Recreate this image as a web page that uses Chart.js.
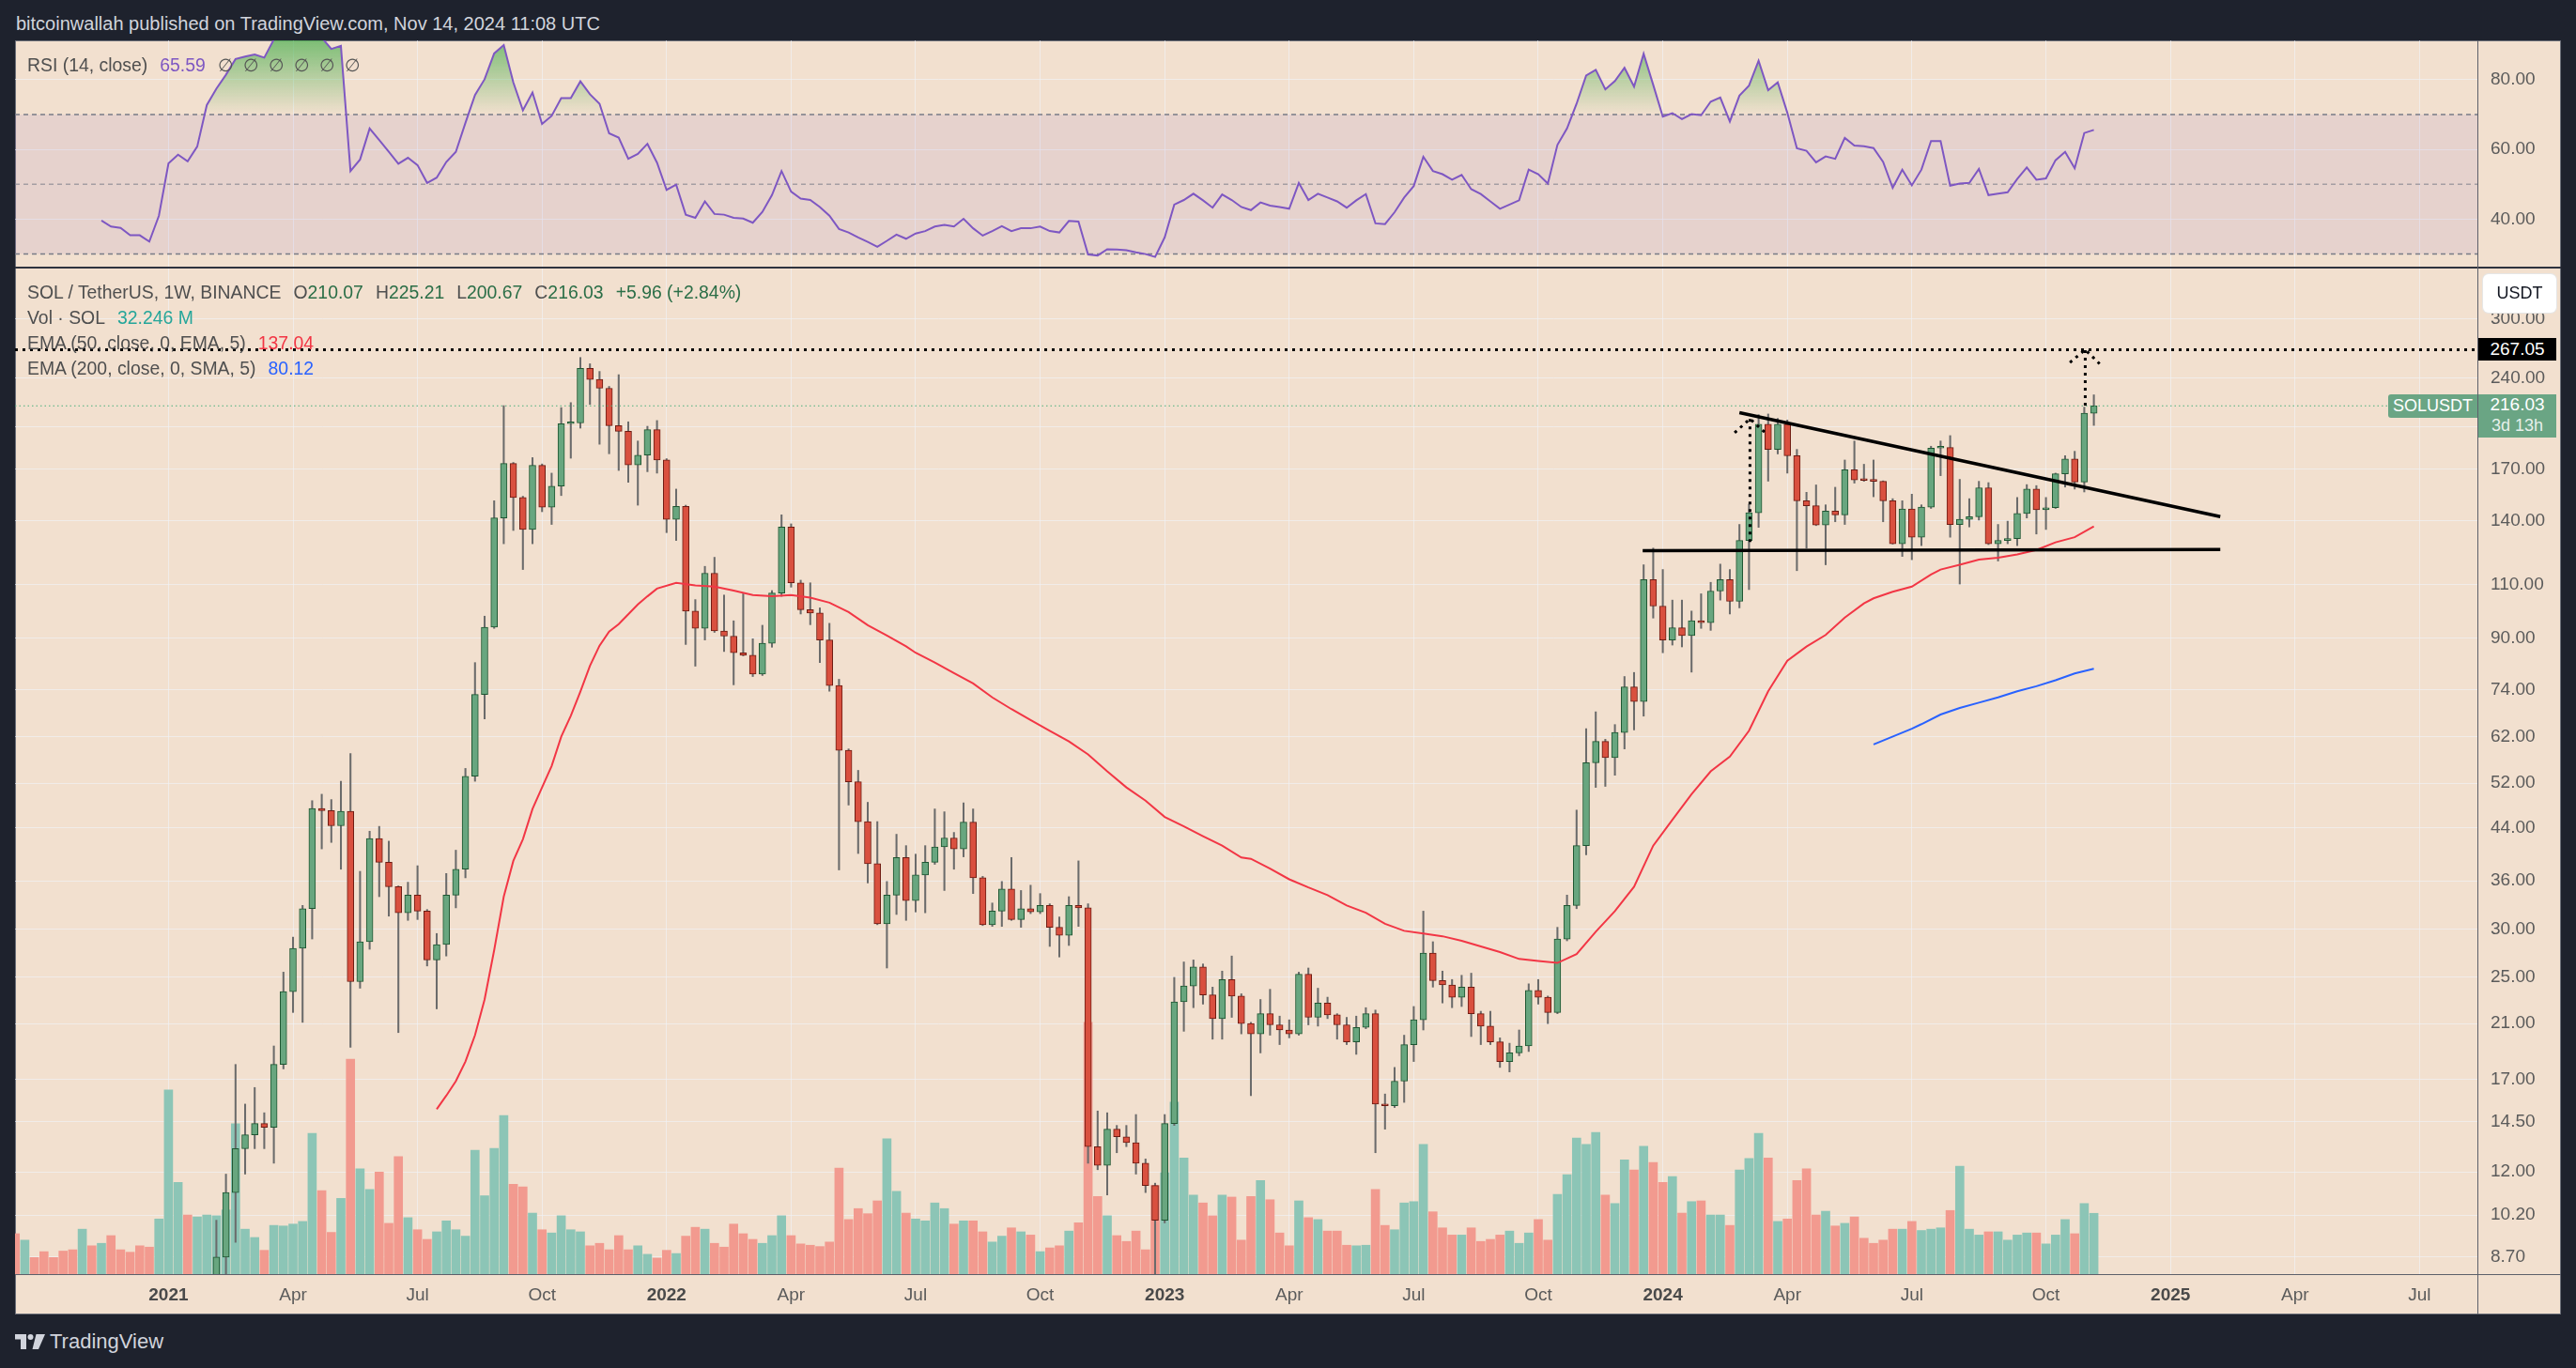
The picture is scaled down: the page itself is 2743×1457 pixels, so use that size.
<!DOCTYPE html>
<html>
<head>
<meta charset="utf-8">
<title>SOL / TetherUS, 1W</title>
<script src="https://cdn.jsdelivr.net/npm/chart.js@4.4.1/dist/chart.umd.min.js"></script>
<style>
  html, body { margin: 0; padding: 0; }
  body { width: 2743px; height: 1457px; background: #1e222d; position: relative; overflow: hidden;
         font-family: 'Liberation Sans', Arial, sans-serif; }
  .abs { position: absolute; }
  #header { left: 17px; top: 12px; color: #d1d4dc; font-size: 20px; line-height: 26px; white-space: nowrap; }
  #panel { left: 16px; top: 43px; width: 2711px; height: 1357px; background: #f2e0cf; box-sizing: border-box; border: 1px solid #6b6e78; }
  canvas { position: absolute; }
  #rsiCanvas { left: 16px; top: 43px; }
  #mainCanvas { left: 16px; top: 285px; }
  .legend { position: absolute; left: 29px; font-size: 19.4px; color: #4f4f4f; white-space: nowrap; height: 24px; line-height: 24px; }
  .legend span { margin-left: 13px; }
  .legend span.first { margin-left: 0; }
  .legend b { font-weight: normal; color: #4f4f4f; }
  .badge { position: absolute; color: #fff; font-size: 19px; text-align: center; white-space: nowrap; }
  #usdt { left: 2644px; top: 292px; width: 78px; height: 41px; background: #fff; border-radius: 6px; color: #131722; line-height: 41px; font-size: 18px; box-shadow: 0 0 0 1px #e6e6e6; }
  #tgt { left: 2639px; width: 83px; height: 24px; background: #000; line-height: 24px; }
  #sym { left: 2543px; width: 95px; height: 25px; background: #6aa584; border-radius: 3px 0 0 3px; line-height: 25px; font-size: 18px; }
  #last { left: 2639px; width: 83px; height: 46px; background: #6aa584; line-height: 22px; }
  #last div:last-child { color: rgba(255,255,255,0.85); font-size: 18px; }
  #footer { left: 53px; top: 1414px; color: #d1d4dc; font-size: 22px; line-height: 30px; }
</style>
</head>
<body>
<div id="header" class="abs">bitcoinwallah published on TradingView.com, Nov 14, 2024 11:08 UTC</div>
<div id="panel" class="abs"></div>
<canvas id="rsiCanvas" width="2711" height="241"></canvas>
<canvas id="mainCanvas" width="2711" height="1115"></canvas>

<div class="abs" style="left:16px;top:284px;width:2711px;height:2px;background:#2f333e"></div>
<div class="abs" style="left:2638px;top:43px;width:1px;height:1357px;background:#5d606b"></div>
<div class="abs" style="left:16px;top:1357px;width:2711px;height:1px;background:#5d606b"></div>

<div class="legend" style="top:57px"><span class="first">RSI (14, close)</span><span style="color:#7e57c2">65.59</span><span style="color:#555;letter-spacing:10px">∅∅∅∅∅∅</span></div>
<div class="legend" style="top:299px"><span class="first">SOL / TetherUS, 1W, BINANCE</span><span style="color:#2b6e47"><b>O</b>210.07</span><span style="color:#2b6e47"><b>H</b>225.21</span><span style="color:#2b6e47"><b>L</b>200.67</span><span style="color:#2b6e47"><b>C</b>216.03</span><span style="color:#2b6e47">+5.96 (+2.84%)</span></div>
<div class="legend" style="top:326px"><span class="first">Vol · SOL</span><span style="color:#26a69a">32.246 M</span></div>
<div class="legend" style="top:353px"><span class="first">EMA (50, close, 0, EMA, 5)</span><span style="color:#f23645">137.04</span></div>
<div class="legend" style="top:380px"><span class="first">EMA (200, close, 0, SMA, 5)</span><span style="color:#2962ff">80.12</span></div>

<div id="usdt" class="badge">USDT</div>
<div id="tgt" class="badge"></div>
<div id="sym" class="badge">SOLUSDT</div>
<div id="last" class="badge"><div id="lastPrice"></div><div>3d 13h</div></div>

<svg class="abs" style="left:16px;top:1421px" width="32" height="16" viewBox="0 0 32 16">
  <path d="M0 0H12V16H6V5.5H0Z" fill="#d1d4dc"/>
  <circle cx="16.5" cy="3" r="3" fill="#d1d4dc"/>
  <path d="M22.5 0H32L25 16H18.5Z" fill="#d1d4dc"/>
</svg>
<div id="footer" class="abs">TradingView</div>

<script>
'use strict';

// weekly bars, x = weeks since the week of 2021-01-04 (first bar = week -16, 2020-09-14)
const firstWeek = -16;

const open = [3.6,3.2,3.3,3.0,2.5,2.4,2.0,1.6,2.0,1.9,2.2,1.8,1.7,1.5,1.45,1.3,
  1.8,3.6,3.7,3.4,4.2,7.4,8.7,11.1,13.1,13.8,
  14.4,14.2,18.0,23.7,27.9,32.4,47.3,46.9,44.3,46.8,
  24.6,28.6,42.2,38.6,35.2,31.9,34.1,32.1,26.7,28.3,
  34.1,37.6,53.4,72.7,93.7,141.5,173.8,152.9,135.5,172.6,
  147.4,159.6,202.0,202.5,248.9,238.7,230.9,200.5,196.2,172.8,
  179.4,197.5,176.1,140.8,147.8,99.6,93.3,114.9,92.4,90.6,
  85.1,84.3,78.5,88.2,106.6,136.8,110.8,100.1,98.9,89.3,
  75.2,58.9,52.3,45.0,38.4,30.6,34.1,39.3,33.4,36.8,
  38.6,40.9,42.3,40.6,44.9,36.4,30.5,32.1,34.9,31.1,
  32.4,32.0,32.8,30.2,29.3,32.8,32.5,13.2,12.3,14.1,
  13.7,13.4,12.4,11.4,10.0,14.4,22.8,24.2,26.0,23.4,
  21.4,24.8,23.3,21.0,20.2,21.8,20.9,20.5,20.2,25.3,
  21.5,22.7,21.7,20.9,19.6,20.7,21.8,15.5,15.4,16.9,
  19.4,21.3,27.4,24.7,24.3,23.2,24.1,21.8,20.8,19.6,
  18.2,18.8,19.3,23.8,23.2,21.9,28.9,32.8,41.1,56.2,
  60.9,57.3,63.0,74.8,70.8,112.1,101.5,89.3,93.5,90.8,
  96.0,95.3,107.4,112.1,103.3,130.0,144.3,201.6,183.3,201.6,
  179.0,151.0,148.2,137.8,145.3,143.2,169.7,163.3,163.0,162.5,
  151.0,128.4,146.4,131.6,147.4,184.2,184.6,138.1,140.8,142.2,
  158.6,128.4,130.0,130.9,143.9,157.8,146.0,147.1,167.2,176.8,
  162.1,210.07];

const high = [3.9,3.5,3.4,3.1,2.7,2.5,2.1,2.1,2.1,2.4,2.3,2.0,1.75,1.7,1.6,2.0,
  4.0,4.2,4.0,4.3,8.0,10.0,11.9,18.0,15.5,16.5,
  15.0,19.3,25.5,29.1,32.8,48.7,49.9,48.9,52.4,58.2,
  37.3,43.4,44.2,41.8,35.3,35.8,38.1,32.3,29.5,37.0,
  40.4,55.0,82.0,97.7,151.0,216.2,174.5,153.6,177.7,173.5,
  167.6,214.6,218.7,259.3,253.2,246.0,232.5,243.0,203.4,189.2,
  200.0,204.4,177.0,157.8,148.5,104.0,117.9,122.0,105.8,96.0,
  106.3,89.7,94.4,107.6,143.2,138.4,111.9,110.8,100.8,95.1,
  77.0,59.2,54.6,48.4,45.0,35.9,42.9,41.1,39.8,41.1,
  47.2,46.7,43.2,48.3,47.2,36.6,33.1,35.9,39.3,34.7,
  35.4,34.3,33.0,31.4,33.9,38.8,33.0,15.1,15.0,14.3,
  14.3,14.9,12.6,11.5,14.9,25.0,26.5,26.7,26.3,24.1,
  25.6,27.1,23.5,21.1,23.0,23.9,21.6,21.3,25.5,25.9,
  24.0,23.2,21.8,21.5,21.6,22.3,22.1,16.1,17.8,20.1,
  22.4,32.1,28.6,25.6,24.8,25.2,25.4,22.0,22.0,19.9,
  19.5,20.5,24.4,24.8,23.3,30.2,34.1,47.0,63.9,68.1,
  61.4,64.9,77.8,79.0,118.6,126.3,116.5,103.8,103.8,99.6,
  106.3,111.0,118.9,116.5,138.1,149.0,209.0,209.5,206.0,204.8,
  183.3,155.9,160.3,148.7,158.9,176.1,189.2,173.3,176.1,162.8,
  152.2,151.0,154.8,148.7,185.5,189.2,193.1,163.7,152.2,162.5,
  161.7,138.1,139.8,152.9,160.5,159.9,152.9,167.6,179.0,182.0,
  215.0,225.21];

const low = [2.8,2.7,2.9,2.4,2.3,1.9,1.5,1.4,1.8,1.8,1.5,1.6,1.4,1.4,1.2,1.25,
  1.7,2.8,2.9,3.3,4.0,6.9,7.6,9.2,11.9,13.1,
  13.1,12.4,17.7,21.9,21.1,28.9,40.6,41.6,37.6,19.2,
  24.0,27.8,33.9,31.5,20.3,31.0,31.1,26.1,22.2,27.1,
  32.5,36.4,52.4,66.3,93.3,128.4,135.0,116.5,128.4,144.9,
  138.1,154.0,177.3,198.6,217.2,186.9,180.3,169.3,161.9,148.5,
  168.5,167.6,133.9,130.0,87.8,80.9,89.3,91.9,85.5,75.4,
  84.1,77.8,78.1,86.9,105.3,109.0,98.5,94.6,82.0,73.6,
  37.5,47.9,39.9,35.7,30.5,25.9,31.7,31.0,32.0,31.9,
  38.3,34.7,37.6,39.4,34.3,30.4,30.3,30.3,31.0,30.2,
  31.8,31.8,28.1,27.0,28.2,30.3,12.4,12.1,11.0,12.9,
  13.2,11.9,11.1,8.0,9.9,14.3,20.4,22.3,22.6,19.8,
  19.8,21.5,20.2,16.0,18.8,20.1,19.4,19.9,20.1,20.9,
  20.8,21.4,19.8,19.4,18.7,20.6,12.9,14.1,15.3,15.6,
  18.2,20.5,24.1,22.7,22.3,22.4,20.0,19.4,19.4,17.8,
  17.5,18.6,18.9,22.6,21.0,21.8,28.7,32.4,39.7,51.2,
  51.4,53.6,59.2,63.6,67.0,97.0,85.1,87.6,87.0,79.1,
  93.3,92.6,103.8,98.5,100.8,108.0,136.6,162.6,180.2,167.6,
  116.0,126.3,137.5,118.6,139.5,138.1,161.4,162.5,153.3,139.5,
  128.2,122.4,120.9,127.5,146.7,166.0,131.6,110.3,136.8,140.4,
  128.0,120.3,128.4,127.5,141.5,133.2,135.5,146.7,159.0,157.8,
  156.1,200.67];

const close = [3.2,3.3,3.0,2.5,2.4,2.0,1.6,2.0,1.9,2.2,1.8,1.7,1.5,1.45,1.3,1.8,
  3.6,3.7,3.4,4.2,7.4,8.7,11.1,13.1,13.8,14.4,
  14.2,18.0,23.7,27.9,32.4,47.3,46.9,44.3,46.8,24.6,
  28.6,42.2,38.6,35.2,31.9,34.1,32.1,26.7,28.3,34.1,
  37.6,53.4,72.7,93.7,141.5,173.8,152.9,135.5,172.6,147.4,
  159.6,202.0,202.5,248.9,238.7,230.9,200.5,196.2,172.8,179.4,
  197.5,176.1,140.8,147.8,99.6,93.3,114.9,92.4,90.6,85.1,
  84.3,78.5,88.2,106.6,136.8,110.8,100.1,98.9,89.3,75.2,
  58.9,52.3,45.0,38.4,30.6,34.1,39.3,33.4,36.8,38.6,
  40.9,42.3,40.6,44.9,36.4,30.5,32.1,34.9,31.1,32.4,
  32.0,32.8,30.2,29.3,32.8,32.5,13.2,12.3,14.1,13.7,
  13.4,12.4,11.4,10.0,14.4,22.8,24.2,26.0,23.4,21.4,
  24.8,23.3,21.0,20.2,21.8,20.9,20.5,20.2,25.3,21.5,
  22.7,21.7,20.9,19.6,20.7,21.8,15.5,15.4,16.9,19.4,
  21.3,27.4,24.7,24.3,23.2,24.1,21.8,20.8,19.6,18.2,
  18.8,19.3,23.8,23.2,21.9,28.9,32.8,41.1,56.2,60.9,
  57.3,63.0,74.8,70.8,112.1,101.5,89.3,93.5,90.8,96.0,
  95.3,107.4,112.1,103.3,130.0,144.3,201.6,183.3,201.6,179.0,
  151.0,148.2,137.8,145.3,143.2,169.7,163.3,163.0,162.5,151.0,
  128.4,146.4,131.6,147.4,184.2,184.6,138.1,140.8,142.2,158.6,
  128.4,130.0,130.9,143.9,157.8,146.0,147.1,167.2,176.8,162.1,
  210.07,216.03];

// volume, millions of SOL
const volume = [21.4,18.0,8.8,11.9,8.8,12.2,12.9,23.8,15.0,16.3,20.4,12.9,11.6,15.0,14.3,29.2,
  97.6,48.6,31.3,30.3,31.3,30.9,34.0,79.6,23.8,19.4,
  12.6,25.8,25.5,26.5,27.9,74.5,44.2,22.1,40.1,113.9,
  55.8,44.9,54.1,26.9,62.2,29.9,23.5,18.4,22.4,28.2,
  23.5,20.1,65.6,41.5,66.6,84.0,47.6,46.2,32.3,23.5,
  21.8,30.9,23.5,22.4,15.0,16.3,12.9,20.4,12.9,15.0,
  10.5,8.5,12.6,10.9,20.1,24.8,23.8,16.3,14.3,26.5,
  21.4,18.4,16.3,20.4,30.9,20.4,16.0,15.3,14.6,17.0,
  56.1,28.9,34.7,32.0,38.8,71.7,43.9,32.3,29.2,28.2,
  37.7,34.7,26.5,28.2,28.2,22.4,17.0,20.1,24.5,22.4,
  20.7,11.9,13.9,15.0,22.8,27.2,133.3,41.1,30.9,20.4,
  17.3,22.8,12.9,46.9,53.7,91.1,61.5,41.8,37.7,30.9,
  41.8,40.8,18.0,41.1,49.6,39.4,21.8,15.0,38.8,29.9,
  28.9,22.8,22.8,15.3,15.0,15.3,44.9,25.8,23.5,37.7,
  38.4,68.7,33.0,24.5,20.7,20.7,24.5,17.3,18.4,20.7,
  22.8,16.3,21.8,28.9,18.0,42.2,52.7,72.1,68.7,75.1,
  41.8,37.4,60.5,55.1,67.7,59.2,48.6,51.7,32.3,38.4,
  38.8,31.3,31.3,25.8,55.1,61.2,74.5,61.5,27.9,29.2,
  49.6,55.8,31.3,33.3,25.5,26.9,30.3,19.0,16.3,18.0,
  23.8,23.8,27.9,23.1,23.8,24.5,33.7,57.1,23.8,20.7,
  22.4,22.4,18.0,20.7,21.8,21.8,16.0,20.7,28.9,21.4,
  37.4,32.2];

// RSI(14) from week -7
const rsiStart = -7;
const rsi = [39.6,37.9,37.5,35.4,35.4,33.6,41.0,
  56.0,58.5,56.6,60.8,72.7,77.4,81.4,85.9,86.6,87.2,
  86.3,91.5,93.0,94.0,95.0,96.0,92.0,88.8,89.7,53.8,
  57.1,66.0,62.7,59.3,55.9,57.6,55.5,50.4,51.9,56.4,
  59.3,67.6,75.6,80.1,87.5,89.9,79.2,71.2,76.3,67.3,
  69.6,74.7,74.7,79.5,75.8,73.1,64.6,63.4,57.3,58.7,
  61.6,56.2,48.4,49.9,41.3,40.4,45.1,41.5,41.3,40.4,
  40.2,39.0,42.1,46.9,53.8,47.9,45.9,45.5,43.5,41.0,
  37.2,36.2,34.8,33.5,32.1,33.8,35.6,34.4,35.9,36.6,
  37.9,38.4,37.9,40.1,37.4,35.3,36.6,38.0,36.6,37.4,
  37.4,37.9,36.6,36.2,39.5,39.3,29.9,29.6,31.4,31.3,
  31.1,30.5,30.0,29.2,34.8,44.2,45.5,47.3,45.4,43.3,
  47.1,45.5,43.5,42.6,44.8,43.9,43.5,43.0,50.4,45.5,
  47.3,46.2,45.1,43.3,45.4,47.2,38.8,38.6,42.0,46.2,
  49.5,57.9,53.8,52.9,51.3,52.7,48.6,47.2,45.1,43.0,
  44.2,45.4,54.2,52.9,50.2,61.3,66.0,73.1,81.2,82.8,
  77.2,79.6,83.4,78.0,87.4,78.5,69.4,70.4,68.7,70.1,
  69.8,73.7,74.9,68.0,75.4,78.3,85.4,77.0,79.2,70.5,
  60.3,59.6,56.3,58.0,57.3,63.3,61.1,60.9,60.4,56.4,
  49.0,54.2,49.7,54.2,62.4,62.4,49.6,50.2,50.4,54.4,
  46.9,47.3,47.7,51.5,54.8,51.3,51.7,56.9,59.3,54.6,
  64.7,65.59];

const ema50Weeks = [28,29,30,31,32,33,34,35,36,37,38,39,40,41,42,43,44,45,46,47,48,49,50,51,
  53,55,57,59,61,63,65,67,69,71,73,75,77,78,
  80,82,84,86,88,90,92,94,96,98,100,102,104,106,108,110,112,113,
  115,117,119,121,123,125,127,129,131,133,135,137,139,141,143,145,147,149,151,153,155,157,159,161,163,165,167,169,171,173,175,177,
  178,180,182,184,185,187,189,191,193,195,197,199,201];
const ema50 = [15.2,16.0,16.9,18.2,20.1,23.0,27.7,33.9,38.8,42.1,47.2,51.2,55.5,62.0,67.1,73.5,81.0,87.4,92.2,94.8,98.4,102.1,105.3,108.4,
  110.8,109.7,109.2,107.6,105.8,105.3,105.8,104.8,102.8,99.2,94.4,90.8,87.2,85.1,
  82.0,78.8,75.8,71.9,68.8,66.0,63.4,60.9,58.0,54.4,51.2,48.7,45.8,44.2,42.6,41.1,39.3,39.1,
  37.7,36.2,35.1,34.1,32.8,31.9,30.6,29.8,29.5,29.2,28.7,28.1,27.5,26.8,26.6,26.4,27.3,29.7,32.1,35.2,41.1,45.3,49.9,54.4,57.5,63.4,73.6,82.6,87.1,91.0,97.2,102.5,
  104.5,107.1,109.2,114.3,116.5,118.6,120.9,121.8,123.3,125.4,129.1,131.6,137.04];

const ema200Weeks = [178,182,183,185,187,189,191,193,195,197,199,201];
const ema200 = [60.2,63.9,65.0,67.4,69.1,70.5,71.9,73.6,75.0,76.7,78.7,80.12];

// axis ticks
const tickWeeks = [0,13,26,39,52,65,78,91,104,117,130,143,156,169,182,196,209,222,235];
const tickLabels = ['2021','Apr','Jul','Oct','2022','Apr','Jul','Oct','2023','Apr','Jul','Oct','2024','Apr','Jul','Oct','2025','Apr','Jul'];
const priceTicks = [8.7,10.2,12,14.5,17,21,25,30,36,44,52,62,74,90,110,140,170,200,240,300];
const rsiTicks = [40,60,80];

// drawings (week, price)
const resistanceLine = [[164.0, 210.5], [214.2, 142.2]];
const supportLine = [[153.9, 125.1], [214.2, 125.6]];
const moveOne = [[165.1, 129.3], [165.1, 205.7]];
const moveOneHead = [[163.5, 195.2], [165.1, 205.7], [166.7, 195.2]];
const moveTwo = [[200.1, 216.2], [200.1, 267.05]];
const moveTwoHead = [[198.5, 254.4], [200.1, 267.05], [201.6, 253.2]];
const targetPrice = 267.05;
const lastClose = 216.03;

const xMin = -16.02, xMax = 241.04;
const fontFamily = "'Liberation Sans', Arial, sans-serif";
const gridColor = 'rgba(240,243,250,0.6)';
const axisColor = '#5b5b5b';

const weekOf = i => firstWeek + i;
const isUp = close.map((c, i) => c >= open[i]);
const toPts = arr => arr.map(p => ({x: p[0], y: p[1]}));

function fitRight(scale) {
  scale.width = 89;
  scale.paddingTop = 0;
  scale.paddingBottom = 0;
}

function xScale(showLabels) {
  return {
    type: 'linear', min: xMin, max: xMax, offset: false,
    afterBuildTicks: s => { s.ticks = tickWeeks.map(v => ({value: v})); },
    afterFit: s => { s.height = showLabels ? 43 : 0; s.paddingLeft = 0; s.paddingRight = 0; },
    grid: {color: gridColor, drawTicks: false, offset: false},
    border: {display: false},
    ticks: {
      display: showLabels, autoSkip: false, maxRotation: 0, padding: 11,
      callback: (v, i) => tickLabels[i],
      color: c => /^\d{4}$/.test(tickLabels[c.index]) ? '#4a4a4a' : axisColor,
      font: c => ({family: fontFamily, size: 19, weight: /^\d{4}$/.test(tickLabels[c.index]) ? 'bold' : 'normal'})
    }
  };
}

function flatLine(y, color, width, dash, extra) {
  return Object.assign({
    type: 'line', data: [{x: xMin, y: y}, {x: xMax, y: y}],
    borderColor: color, borderWidth: width, borderDash: dash,
    pointRadius: 0, fill: false, clip: 0
  }, extra || {});
}

function drawing(points, color, width, dash) {
  return {
    type: 'line', data: toPts(points), borderColor: color, borderWidth: width,
    borderDash: dash, pointRadius: 0, fill: false, clip: 0, tension: 0, order: 0
  };
}

function rsiGradient(ctx) {
  const ys = ctx.chart.scales.y;
  const top = ys ? ys.getPixelForValue(100) : NaN;
  const bottom = ys ? ys.getPixelForValue(70) : NaN;
  if (!isFinite(top) || !isFinite(bottom) || top === bottom) return 'rgba(76,175,80,0.4)';
  const g = ctx.chart.ctx.createLinearGradient(0, top, 0, bottom);
  g.addColorStop(0, 'rgba(76,175,80,1)');
  g.addColorStop(1, 'rgba(76,175,80,0)');
  return g;
}

// RSI pane
const rsiChart = new Chart(document.getElementById('rsiCanvas'), {
  type: 'line',
  data: {
    datasets: [
      {
        data: rsi.map((v, i) => ({x: rsiStart + i, y: v})),
        borderColor: '#7e57c2', borderWidth: 2, pointRadius: 0, tension: 0, clip: 0, order: 0,
        backgroundColor: rsiGradient,
        fill: {target: {value: 70}, below: 'rgba(0,0,0,0)'}
      },
      flatLine(70, '#787b86', 1.5, [5, 4], {backgroundColor: 'rgba(126,87,194,0.1)', fill: {target: {value: 30}}, order: 3}),
      flatLine(50, 'rgba(120,123,134,0.6)', 1.5, [5, 4], {order: 2}),
      flatLine(30, '#787b86', 1.5, [5, 4], {order: 2})
    ]
  },
  options: {
    responsive: false, animation: false, devicePixelRatio: 1,
    layout: {padding: 0},
    plugins: {legend: {display: false}, tooltip: {enabled: false}},
    scales: {
      x: xScale(false),
      y: {
        position: 'right', min: 26.4, max: 91.25,
        afterBuildTicks: s => { s.ticks = rsiTicks.map(v => ({value: v})); },
        afterFit: fitRight,
        grid: {color: gridColor, drawTicks: false},
        border: {display: false},
        ticks: {callback: v => v.toFixed(2), color: axisColor, padding: 14, font: {family: fontFamily, size: 19}}
      }
    }
  }
});

// price pane
const mainChart = new Chart(document.getElementById('mainCanvas'), {
  type: 'bar',
  data: {
    datasets: [
      {
        data: volume.map((v, i) => ({x: weekOf(i), y: v})),
        yAxisID: 'yv', grouped: false, barThickness: 9, clip: 0, order: 10,
        backgroundColor: isUp.map(u => u ? '#8cc5b6' : '#f29a8f')
      },
      {
        data: low.map((l, i) => ({x: weekOf(i), y: [l, high[i]]})),
        grouped: false, barThickness: 1.4, clip: 0, order: 6,
        backgroundColor: '#6b6b6b'
      },
      {
        data: open.map((o, i) => ({x: weekOf(i), y: [Math.min(o, close[i]), Math.max(o, close[i])]})),
        grouped: false, barThickness: 7, minBarLength: 2, clip: 0, order: 5,
        backgroundColor: isUp.map(u => u ? '#68a67f' : '#d9503f'),
        borderColor: isUp.map(u => u ? '#1e5631' : '#6e1b12'),
        borderWidth: 1, borderSkipped: false
      },
      {
        type: 'line', data: ema50Weeks.map((w, i) => ({x: w, y: ema50[i]})),
        borderColor: '#f23645', borderWidth: 2, pointRadius: 0, tension: 0, fill: false, clip: 0, order: 3
      },
      {
        type: 'line', data: ema200Weeks.map((w, i) => ({x: w, y: ema200[i]})),
        borderColor: '#2962ff', borderWidth: 2, pointRadius: 0, tension: 0, fill: false, clip: 0, order: 3
      },
      flatLine(lastClose, '#4caf7d', 1.2, [1.5, 3], {order: 4}),
      flatLine(targetPrice, '#000000', 3, [3, 5], {order: 1}),
      drawing(resistanceLine, '#000000', 3.5, []),
      drawing(supportLine, '#000000', 3.5, []),
      drawing(moveOne, '#000000', 3, [3, 5]),
      drawing(moveOneHead, '#000000', 3, [3, 5]),
      drawing(moveTwo, '#000000', 3, [3, 5]),
      drawing(moveTwoHead, '#000000', 3, [3, 5])
    ]
  },
  options: {
    responsive: false, animation: false, devicePixelRatio: 1,
    layout: {padding: 0},
    plugins: {legend: {display: false}, tooltip: {enabled: false}},
    scales: {
      x: xScale(true),
      y: {
        type: 'logarithmic', position: 'right', min: 8.16, max: 364,
        afterBuildTicks: s => { s.ticks = priceTicks.map(v => ({value: v})); },
        afterFit: fitRight,
        grid: {color: gridColor, drawTicks: false},
        border: {display: false},
        ticks: {autoSkip: false, callback: v => Number(v).toFixed(2), color: axisColor, padding: 14, font: {family: fontFamily, size: 19}}
      },
      yv: {display: false, min: 0, max: 533.1}
    }
  }
});

// price badges on the scale
const mainTop = 285;
const yPrice = mainChart.scales.y;
const tgt = document.getElementById('tgt');
tgt.textContent = targetPrice.toFixed(2);
tgt.style.top = (mainTop + yPrice.getPixelForValue(targetPrice) - 12) + 'px';
const lastY = mainTop + yPrice.getPixelForValue(lastClose);
document.getElementById('sym').style.top = (lastY - 12) + 'px';
document.getElementById('last').style.top = (lastY - 12) + 'px';
document.getElementById('lastPrice').textContent = lastClose.toFixed(2);
</script>
</body>
</html>
